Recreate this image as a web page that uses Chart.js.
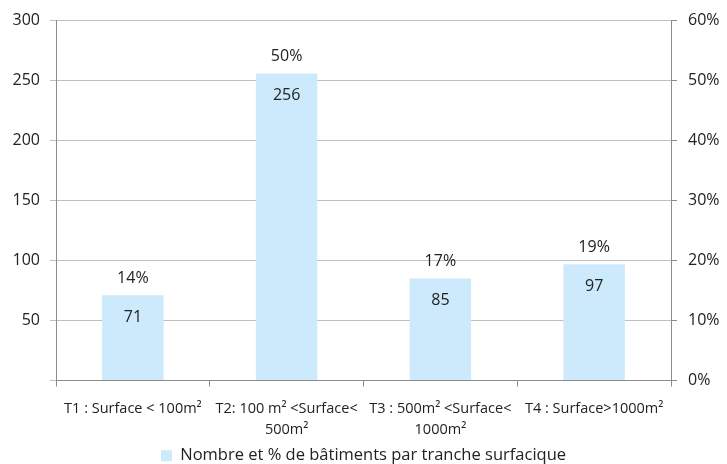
<!DOCTYPE html>
<html>
<head>
<meta charset="utf-8">
<script src="https://cdn.jsdelivr.net/npm/chart.js@4/dist/chart.umd.min.js"></script>
<style>
  html, body { margin: 0; padding: 0; background: #fff; }
  #wrap { width: 727px; height: 464px; }
</style>
</head>
<body>
<div id="wrap"><canvas id="c" width="727" height="464"></canvas></div>
<script>
// Building counts by floor-area band
const categories = [
  ['T1 : Surface < 100m²'],
  ['T2: 100 m² <Surface<', '500m²'],
  ['T3 : 500m² <Surface<', '1000m²'],
  ['T4 : Surface>1000m²']
];
const counts = [71, 256, 85, 97];
const percents = [14, 50, 17, 19];
const seriesName = 'Nombre et % de bâtiments par tranche surfacique';

const FONT = "'Open Sans', 'Noto Sans', sans-serif";
const BAR_COLOR = '#CCEAFC';
const GRID = '#BFBFBF';
const AXIS = '#8C8C8C';
const TEXT = '#222222';

// Count inside each bar, share (%) above it
const barLabels = {
  id: 'barLabels',
  afterDatasetsDraw(chart) {
    const ctx = chart.ctx;
    const meta = chart.getDatasetMeta(0);
    ctx.save();
    ctx.font = '16px ' + FONT;
    ctx.fillStyle = TEXT;
    ctx.textAlign = 'center';
    ctx.textBaseline = 'middle';
    meta.data.forEach((bar, i) => {
      ctx.fillText(String(counts[i]), bar.x, bar.y + 22);
      ctx.fillText(percents[i] + '%', bar.x, bar.y - 17);
    });
    ctx.restore();
  }
};

new Chart(document.getElementById('c'), {
  type: 'bar',
  data: {
    labels: categories,
    datasets: [{
      label: seriesName,
      data: counts,
      backgroundColor: BAR_COLOR,
      borderWidth: 0,
      categoryPercentage: 0.4,
      barPercentage: 1.0,
      yAxisID: 'y'
    }]
  },
  options: {
    responsive: false,
    animation: false,
    layout: { padding: { top: 20, left: 0, right: 0, bottom: -10 } },
    plugins: {
      legend: {
        position: 'bottom',
        labels: {
          font: { family: FONT, size: 16.5 },
          color: TEXT,
          boxWidth: 11,
          boxHeight: 11,
          padding: 2
        }
      },
      tooltip: { enabled: false }
    },
    scales: {
      x: {
        offset: true,
        grid: {
          offset: true,
          drawOnChartArea: false,
          drawTicks: true,
          tickLength: 6,
          color: AXIS
        },
        border: { color: AXIS },
        ticks: {
          font: { family: FONT, size: 14.5, lineHeight: 1.45 },
          color: TEXT,
          maxRotation: 0,
          autoSkip: false,
          padding: 12
        },
        afterFit(scale) { scale.height = 65; }
      },
      y: {
        position: 'left',
        min: 0, max: 300,
        ticks: {
          stepSize: 50,
          font: { family: FONT, size: 16 },
          color: TEXT,
          padding: 10,
          callback: v => (v === 0 ? '' : v)
        },
        grid: { color: GRID, tickLength: 6, tickColor: GRID },
        border: { color: AXIS },
        afterFit(scale) { scale.width = 56; }
      },
      y1: {
        position: 'right',
        min: 0, max: 60,
        ticks: {
          stepSize: 10,
          font: { family: FONT, size: 16 },
          color: TEXT,
          padding: 11,
          callback: v => v + '%'
        },
        grid: { drawOnChartArea: false, tickLength: 6, color: AXIS },
        border: { color: AXIS },
        afterFit(scale) { scale.width = 56; }
      }
    }
  },
  plugins: [barLabels]
});
</script>
</body>
</html>
